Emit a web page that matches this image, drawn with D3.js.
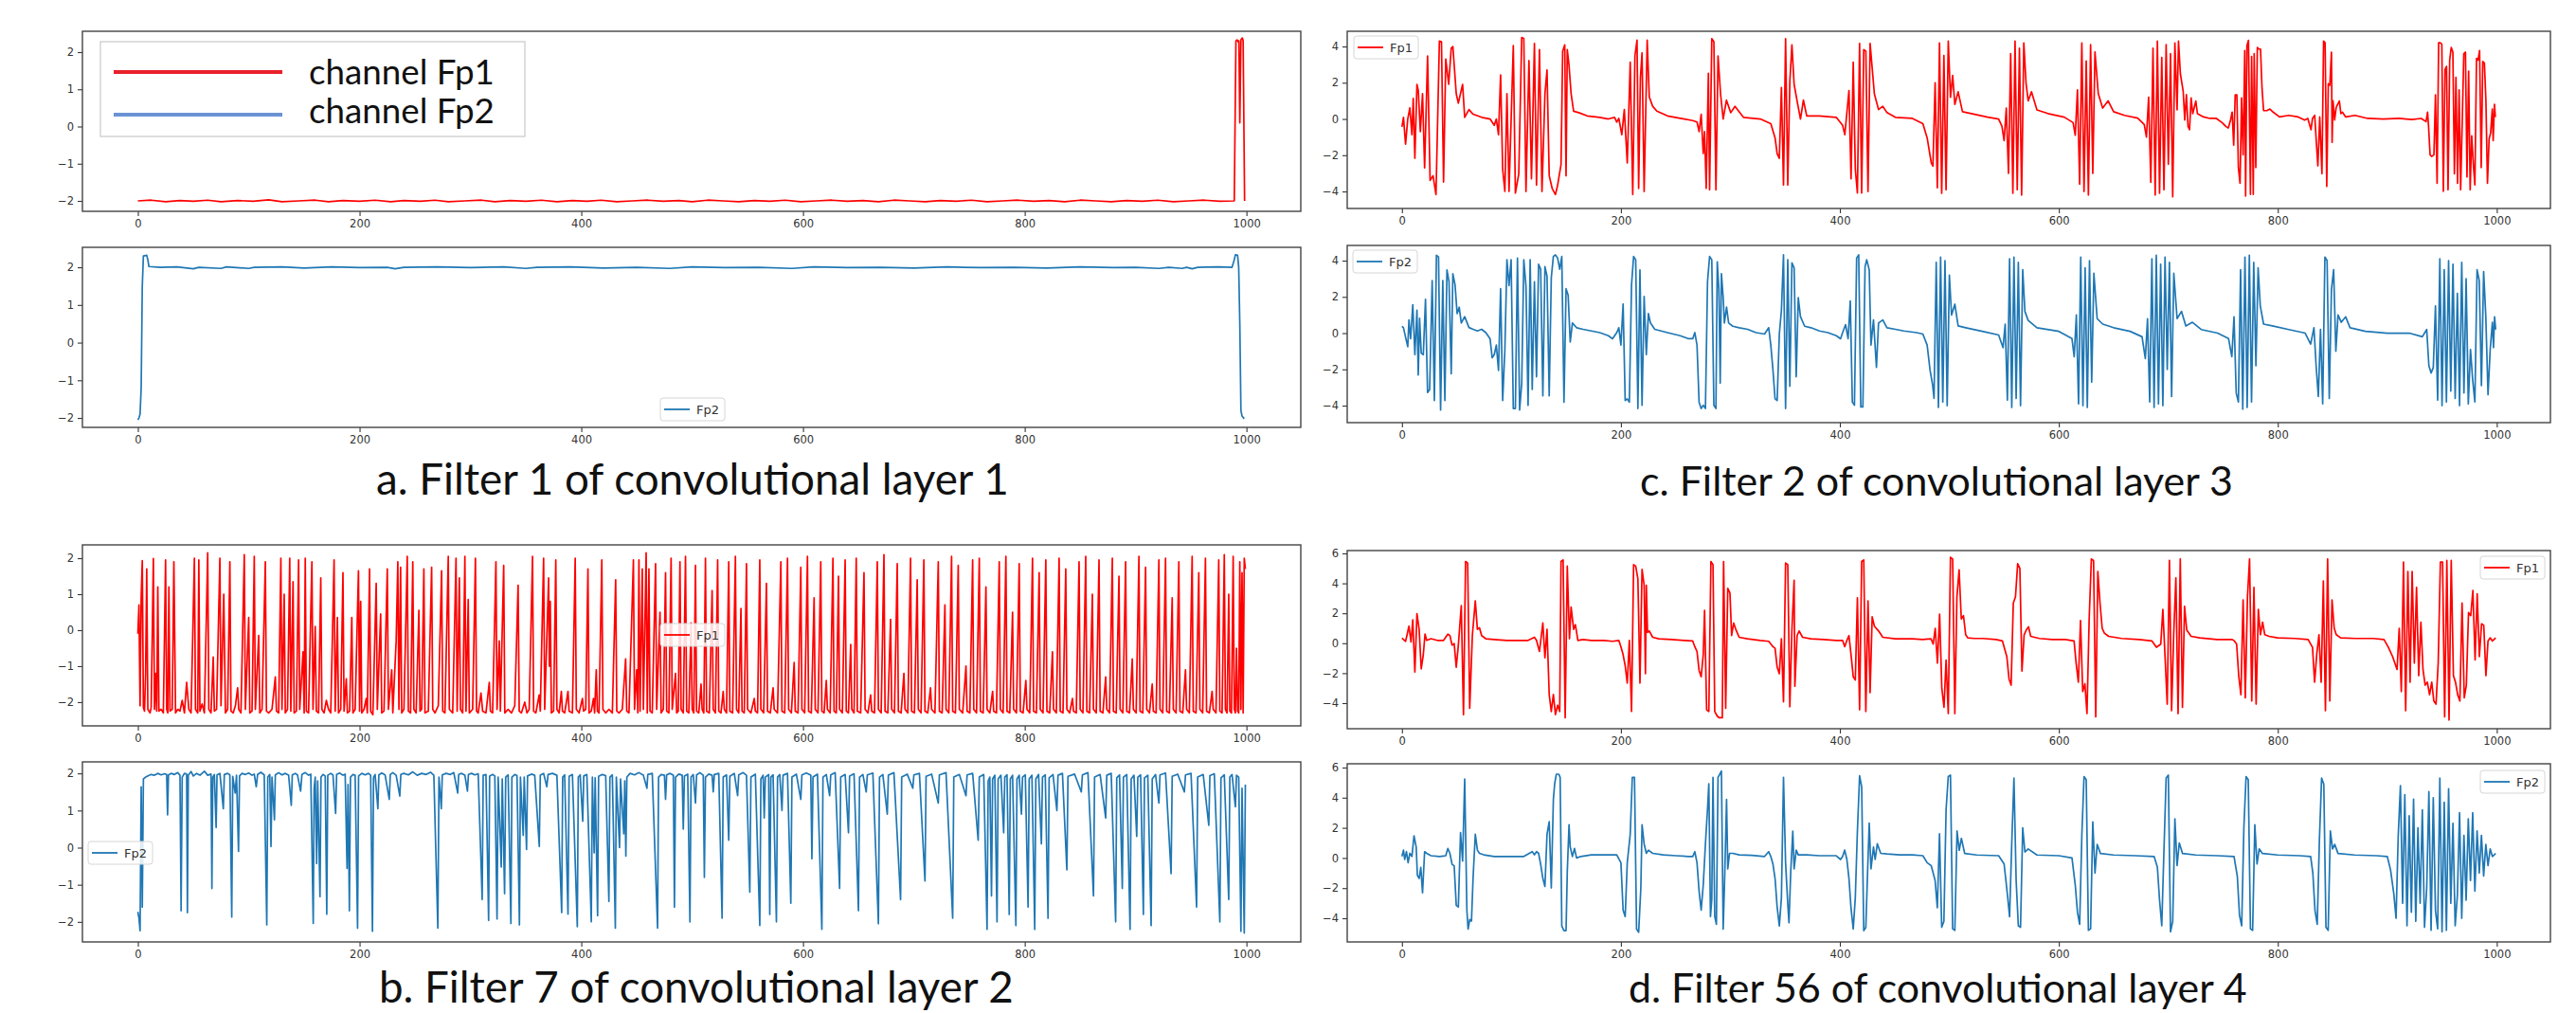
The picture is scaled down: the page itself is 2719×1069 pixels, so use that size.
<!DOCTYPE html>
<meta charset="utf-8">
<head>
</head>
<body style="margin:0;background:#fff">
<style>
.tick text { font-family: "DejaVu Sans", sans-serif; font-size: 11.5px; fill: #333; }
.tick line { stroke: #333; stroke-width: 1.1px; }
.frame { fill: none; stroke: #444; stroke-width: 1.4px; }
.sig { fill: none; stroke-width: 1.7px; stroke-linejoin: round; }
.caption { font-family: "Century Gothic", "URW Gothic", Lato, sans-serif; fill: #111; }
</style>
<svg width="2719" height="1069"></svg>
<script src="https://d3js.org/d3.v7.min.js"></script>
<script>
var aFp1 = [0,-2.0, 12,-1.98, 25,-2.02, 38,-1.99, 50,-2.01, 63,-1.98, 75,-2.02, 90,-1.99, 104,-2.01, 118,-1.97, 130,-2.02, 145,-2.0, 160,-1.98, 172,-2.02, 185,-1.99, 200,-2.01, 214,-1.98, 228,-2.02, 240,-1.99, 255,-2.01, 268,-1.98, 280,-2.02, 295,-2.0, 310,-1.98, 322,-2.02, 336,-1.99, 350,-2.01, 364,-1.98, 378,-2.02, 392,-1.99, 405,-2.01, 418,-1.98, 432,-2.02, 446,-2.0, 460,-1.98, 474,-2.01, 488,-1.99, 500,-2.02, 514,-1.98, 528,-2.0, 542,-2.02, 556,-1.99, 570,-2.01, 584,-1.98, 598,-2.02, 612,-2.0, 626,-1.98, 640,-2.01, 654,-1.99, 668,-2.02, 682,-1.98, 696,-2.0, 710,-2.02, 724,-1.99, 738,-2.01, 752,-1.98, 766,-2.02, 780,-2.0, 794,-1.98, 808,-2.01, 822,-1.99, 836,-2.02, 850,-1.98, 864,-2.0, 878,-2.02, 892,-1.99, 906,-2.01, 920,-1.98, 934,-2.02, 948,-2.0, 962,-1.98, 976,-2.01, 989,-2.0, 990.5,2.3, 991.5,2.33, 992.5,2.28, 993.2,2.3, 994,0.1, 995,2.33, 996.3,2.38, 997,2.3, 998.3,-2.0];

var aFp2 = [0,-2.05, 1,-2.0, 2,-1.9, 3,-1.2, 4,1.5, 5,2.3, 8,2.32, 9,2.2, 10,2.02, 20,2.0, 35,2.01, 50,1.96, 55,2.0, 75,1.97, 80,2.01, 100,1.97, 105,2.0, 130,2.01, 150,1.98, 175,2.01, 200,1.99, 225,2.0, 232,1.96, 240,2.0, 270,2.01, 300,1.99, 330,2.01, 350,1.97, 360,2.0, 390,2.01, 420,1.98, 450,2.0, 480,1.97, 500,2.01, 530,1.99, 560,2.0, 590,1.97, 610,2.01, 640,1.99, 670,2.0, 700,1.98, 730,2.01, 760,1.99, 790,2.0, 820,1.98, 850,2.01, 880,1.99, 900,2.0, 921,1.97, 930,2.0, 942,1.97, 946,2.0, 951,1.96, 956,2.0, 975,2.01, 987,2.0, 989,2.2, 990,2.33, 992,2.32, 993,2.0, 994,0.5, 995,-1.8, 996,-1.95, 998,-2.02];

var bFp1 = [0,-0.1, 1,0.7, 2,-2.1, 3,0.9, 4,1.93, 5,-2.15, 6,-2.25, 7,-1.2, 8,1.7, 9,-2.2, 11,-2.3, 12,-2.15, 14,1.99, 15,-2.2, 16,-1.2, 17,-2.25, 18,1.2, 19,-2.25, 21,-2.2, 23,-2.3, 25,1.95, 26,-2.2, 27,-2.3, 28,1.2, 29,-2.25, 31,-2.2, 32.5,1.9, 34,-2.3, 36,-2.2, 38,-2.25, 40,-1.95, 42,-2.3, 44,-1.45, 46,-2.2, 48,-2.3, 51,2.0, 52,-2.2, 54,-2.3, 55,1.95, 56,-2.25, 58,-2.05, 60,-2.3, 63,2.15, 64,-2.2, 66,-2.3, 68,-0.75, 69,-2.25, 71,-2.2, 74,2.0, 75,-2.1, 77.5,1.0, 79,-2.3, 81,-2.2, 83,1.9, 84,-2.25, 86,-2.3, 88,-2.1, 90,-1.6, 91,-2.2, 93,-2.3, 96,2.1, 97,-2.2, 100,0.35, 101,-2.3, 103,-2.25, 105,2.05, 106,-2.2, 109,-0.15, 110,-2.3, 112,-2.2, 115,1.9, 116,-2.25, 118,-2.3, 121,-2.2, 124,-1.3, 125,-2.25, 127,-2.3, 129,2.0, 130,-2.2, 132,1.0, 133,-2.3, 135,-2.2, 137,2.0, 138,-2.25, 140,1.35, 141,-2.3, 143,-2.25, 145,1.95, 146,-2.2, 149,-0.6, 150,-2.3, 151,2.0, 152,-2.25, 154,-2.3, 157,1.9, 158,-2.2, 160,0.1, 161,-2.25, 163,-2.3, 165,1.45, 166,-2.2, 168,-2.3, 170,-1.95, 172,-2.2, 174,-2.3, 177,1.95, 178,-2.25, 180,0.35, 181,-2.3, 183,-2.2, 185,1.6, 186,-2.25, 188,-1.35, 189,-2.3, 191,-2.25, 193,0.35, 194,-2.3, 196,-2.2, 199,1.65, 200,-2.25, 201,0.8, 202,-2.3, 204,-2.2, 206,-1.9, 207,-2.3, 209,1.7, 210,-2.25, 212,-2.35, 215,1.3, 216,-2.2, 219,0.45, 220,-2.3, 222,-2.25, 225,1.7, 226,-2.2, 229,-1.1, 230,-2.3, 233,-0.3, 234.5,1.9, 235.5,-2.2, 237,1.75, 238,-2.3, 240,-2.2, 243,2.05, 244,-2.25, 246,-2.3, 248,1.9, 249,-2.2, 251,-2.3, 253.5,0.55, 254.5,-2.25, 256,-2.2, 258,1.7, 259,-2.3, 262,-2.25, 265,1.75, 266,-2.2, 268,-2.3, 271,-2.1, 274,1.65, 275,-2.25, 277,-2.3, 280,2.05, 281,-2.2, 284,-2.3, 287,2.0, 288,-2.25, 290,1.45, 291,-2.2, 293,-2.3, 295,2.05, 296,-2.25, 298,0.85, 299,-2.3, 302,-2.2, 304.5,2.0, 305.5,-2.25, 307,-2.3, 309.5,-1.75, 311,-2.25, 314,-2.3, 317,-1.45, 318,-2.25, 320,-2.3, 323,1.9, 324,-2.2, 326,-0.3, 327,-2.25, 330,1.8, 331,-2.3, 334,-2.2, 337,-2.3, 340,-2.1, 343,1.25, 344,-2.25, 346,-2.3, 349,-2.0, 351,-2.3, 353,-2.2, 356,2.05, 357,-2.25, 359,-2.3, 362,-1.8, 363,-2.25, 366,2.0, 367,-2.2, 370.5,1.45, 371.2,-1.0, 372,0.8, 373,-2.3, 375,-2.25, 377,1.95, 378,-2.2, 380,-2.3, 382,-1.7, 383,-2.25, 385,-2.3, 388,-1.7, 389,-2.25, 392,-2.3, 394.5,2.0, 395.5,-2.2, 398,-2.3, 401,-1.9, 402,-2.25, 404,-2.2, 406,1.7, 407,-2.3, 409,-2.25, 411,-1.9, 412,-2.3, 413.5,-1.1, 414.5,-2.25, 416,-2.3, 418.5,1.95, 419.5,-2.2, 422,-2.3, 425,-2.2, 428,-2.3, 431,1.4, 432,-2.25, 434,-2.3, 437,-2.2, 440,-0.8, 441,-2.25, 443,-2.3, 447,1.95, 448,-2.2, 450,-1.1, 451,-2.3, 452,1.95, 453,-2.25, 455,1.7, 456,-2.2, 458.5,2.15, 459.5,-2.3, 461,1.7, 462,-2.25, 464,-2.3, 467,1.85, 468,-2.2, 471,0.5, 472,-2.3, 474,-2.2, 476,1.6, 477,-2.25, 479,-2.3, 481,2.0, 482,-2.2, 485,-1.2, 486,-2.3, 487.5,-2.25, 489,1.9, 490,-2.2, 492,-2.3, 494,2.05, 495,-2.25, 497,-2.3, 499,0.2, 500,-2.2, 501.5,-2.3, 503,1.8, 504,-2.25, 506,-2.3, 508,-1.5, 509,-2.2, 510.5,-2.3, 512,2.0, 513,-2.25, 515.5,-2.3, 518,1.1, 519,-2.2, 521,-2.3, 523,1.95, 524,-2.25, 526,-2.3, 528,-1.7, 529,-2.2, 531,-2.3, 533,1.9, 534,-2.25, 536.5,-2.3, 539,2.05, 540,-2.2, 542,-2.3, 544,0.6, 545,-2.25, 547,-2.3, 549,1.85, 550,-2.2, 553,-2.3, 556,-1.9, 557,-2.25, 559,-2.3, 561,1.95, 562,-2.2, 564.5,-2.3, 567,1.3, 568,-2.25, 570.5,-2.3, 573,-1.6, 574,-2.2, 577,-2.3, 580,1.9, 581,-2.25, 583.5,-2.3, 586,2.0, 587,-2.2, 589.5,-2.3, 592,-0.9, 593,-2.25, 595.5,-2.3, 598,1.75, 599,-2.2, 601.5,-2.3, 604,2.05, 605,-2.25, 607.5,-2.3, 610,0.9, 611,-2.2, 613.5,-2.3, 616,1.9, 617,-2.25, 619,-2.3, 621,-1.4, 622,-2.2, 624.5,-2.3, 627,2.0, 628,-2.25, 630,-2.3, 632,1.5, 633,-2.2, 635.5,-2.3, 638,1.95, 639,-2.25, 641,-2.3, 643,-0.4, 644,-2.2, 646,-2.3, 648,2.0, 649,-2.25, 652,-2.3, 655,1.6, 656,-2.2, 658.5,-2.3, 661,-1.8, 662,-2.25, 664.5,-2.3, 667,1.9, 668,-2.2, 670.5,-2.3, 673,2.1, 674,-2.25, 676.5,-2.3, 679,0.3, 680,-2.2, 682.5,-2.3, 685,1.85, 686,-2.25, 688.5,-2.3, 691,-1.2, 692,-2.2, 694.5,-2.3, 697,2.0, 698,-2.25, 700.5,-2.3, 703,1.4, 704,-2.2, 706.5,-2.3, 709,1.95, 710,-2.25, 712.5,-2.3, 715,-1.6, 716,-2.2, 719,-2.3, 722,1.9, 723,-2.25, 725.5,-2.3, 728,0.7, 729,-2.2, 731.5,-2.3, 734,2.05, 735,-2.25, 737.5,-2.3, 740,1.8, 741,-2.2, 744,-2.3, 747,-1.0, 748,-2.25, 750.5,-2.3, 753,1.95, 754,-2.2, 756.5,-2.3, 759,2.0, 760,-2.25, 762.5,-2.3, 765,1.2, 766,-2.2, 768.5,-2.3, 771,-1.7, 772,-2.25, 774.5,-2.3, 777,1.9, 778,-2.2, 780.5,-2.3, 783,2.05, 784,-2.25, 786.5,-2.3, 789,0.5, 790,-2.2, 792.5,-2.3, 795,1.85, 796,-2.25, 798.5,-2.3, 801,-1.4, 802,-2.2, 804.5,-2.3, 807,2.0, 808,-2.25, 810.5,-2.3, 813,1.6, 814,-2.2, 816.5,-2.3, 819,1.95, 820,-2.25, 822.5,-2.3, 825,-0.6, 826,-2.2, 828.5,-2.3, 831,2.0, 832,-2.25, 834.5,-2.3, 837,1.7, 838,-2.2, 840.5,-2.3, 843,-1.9, 844,-2.25, 846.5,-2.3, 849,1.9, 850,-2.2, 852.5,-2.3, 855,2.05, 856,-2.25, 858.5,-2.3, 861,1.0, 862,-2.2, 864.5,-2.3, 867,1.95, 868,-2.25, 870.5,-2.3, 873,-1.3, 874,-2.2, 876.5,-2.3, 879,2.0, 880,-2.25, 882.5,-2.3, 885,1.5, 886,-2.2, 888.5,-2.3, 891,1.9, 892,-2.25, 894.5,-2.3, 897,-0.8, 898,-2.2, 900.5,-2.3, 903,2.05, 904,-2.25, 906.5,-2.3, 909,1.75, 910,-2.2, 912.5,-2.3, 915,-1.5, 916,-2.25, 918.5,-2.3, 921,1.95, 922,-2.2, 924.5,-2.3, 927,2.0, 928,-2.25, 930.5,-2.3, 933,0.9, 934,-2.2, 936.5,-2.3, 939,1.9, 940,-2.25, 942.5,-2.3, 945,-1.1, 946,-2.2, 948.5,-2.3, 951,2.05, 952,-2.25, 954.5,-2.3, 957,1.6, 958,-2.2, 960.5,-2.3, 963,2.0, 964,-2.25, 966.5,-2.3, 969,-1.7, 970,-2.2, 972.5,-2.3, 975,1.95, 976,-2.25, 978,-2.3, 980,2.1, 981,-2.2, 982.5,-2.3, 984,1.0, 985,-2.25, 986.5,-2.3, 988,2.05, 989,-2.2, 990,-2.3, 991,-0.5, 992,-2.25, 993,-2.3, 994,1.9, 995,-2.2, 996,1.6, 997,-2.3, 998,2.0, 999,1.7];

var bFp2 = [0,-1.73, 1,-1.9, 2,-2.24, 3,1.64, 4,-1.6, 5,1.85, 7,1.9, 9.6,1.94, 12,1.97, 15,1.95, 18,2.0, 21,1.96, 24,1.99, 26,1.97, 26.8,0.88, 27.6,1.96, 30,2.0, 33,1.97, 36,2.02, 38,1.95, 39,-1.7, 40,1.9, 42,2.0, 44,1.98, 44.7,-1.75, 45.5,1.95, 48,2.05, 50,1.93, 53,2.0, 56,1.95, 60,2.06, 63,1.95, 66,1.98, 66.8,-1.1, 67.6,1.9, 69,1.97, 70.6,0.54, 71.4,1.96, 74,2.0, 77.1,1.05, 78,1.97, 81,2.0, 83,1.96, 84.7,-1.87, 85.6,1.92, 87.8,1.47, 89,1.95, 90.8,-0.1, 91.7,1.93, 94,2.0, 97,1.97, 100,2.01, 103,1.95, 105,1.98, 106.8,1.64, 108,1.97, 111,2.03, 114,1.96, 116.3,-2.08, 117.2,1.9, 119,1.97, 120.1,0.03, 121,1.9, 123.2,0.75, 124,1.96, 127,2.02, 130,1.96, 133,2.0, 136,1.95, 138.4,1.14, 139.3,1.96, 142,2.0, 144,1.96, 146.8,1.52, 148,1.97, 151,2.02, 154,1.95, 156,1.98, 158.2,-2.04, 159,1.6, 160,1.9, 161.3,-0.43, 162.2,1.8, 164.3,-1.32, 165.2,1.9, 167,1.97, 169,1.93, 170.4,-1.79, 171.3,1.95, 174,2.0, 176,1.96, 178.4,0.92, 179.3,1.97, 182,2.01, 185,1.95, 187,1.98, 188.7,-0.56, 189.6,1.7, 190.8,-1.7, 191.8,1.9, 194,1.97, 196,1.95, 198.2,-2.17, 199.1,1.93, 202,2.0, 205,1.96, 208,2.0, 210,1.95, 211.6,-2.25, 212.6,1.9, 214,1.97, 216.5,1.05, 217.4,1.96, 220,2.01, 223,1.96, 226.8,1.3, 227.7,1.97, 230,2.02, 233,1.95, 236.3,1.39, 237.2,1.97, 240,2.0, 244,1.96, 248,2.04, 252,1.95, 256,2.0, 260,1.97, 264,2.03, 267,1.95, 270.6,-2.17, 271.6,1.9, 273.7,1.05, 274.6,1.96, 278,2.0, 282,1.97, 285,2.02, 288.5,1.47, 289.4,1.97, 292,2.0, 295,1.95, 297.3,1.52, 298.2,1.97, 301,2.0, 304,1.96, 307,1.99, 310.6,-1.4, 311.5,1.95, 314,1.97, 316.4,-1.96, 317.3,1.93, 320,1.97, 322,1.93, 324,-1.92, 325,1.9, 327.8,-0.52, 328.7,1.85, 330.8,-1.24, 331.8,1.9, 334,1.96, 336.5,-2.04, 337.4,1.9, 340,1.97, 342,1.94, 344.2,-2.08, 345.1,1.9, 347.6,0.33, 348.5,1.9, 350.6,-0.05, 351.5,1.93, 355,1.98, 358,1.95, 362.1,0.03, 363,1.95, 366,2.0, 368.9,1.64, 370,1.97, 374,2.0, 378,1.95, 382.3,-1.75, 383.2,1.9, 385,1.96, 388,-1.79, 389,1.92, 392,1.97, 396.4,-2.13, 397.3,1.9, 399,1.96, 401.3,0.71, 402.2,1.93, 405,1.97, 409,-2.0, 410,1.9, 411.6,-0.14, 412.5,1.88, 414.7,-1.83, 415.6,1.92, 419,1.97, 422,1.94, 424.9,-1.45, 425.8,1.9, 428,1.96, 430.7,-2.17, 431.6,1.9, 434.5,0.0, 435.4,1.85, 438.3,0.37, 439.2,1.8, 440.2,-0.23, 441.1,1.9, 444,2.0, 448,1.96, 452,2.02, 456,1.95, 459.2,1.6, 460,1.97, 464,2.0, 468.8,-2.17, 469.7,1.9, 472,1.97, 475,1.95, 476,1.3, 477,1.96, 480,2.0, 483,1.95, 484,-1.6, 485,1.9, 488,1.98, 491,1.95, 492,0.5, 493,1.93, 496,1.98, 498,-2.0, 499,1.9, 501,1.97, 503,1.2, 504,1.96, 507,2.02, 510,1.95, 511,-0.8, 512,1.9, 515,1.98, 518,1.95, 519,1.5, 520,1.97, 524,2.0, 527,-1.9, 528,1.9, 531,1.96, 533,0.2, 534,1.92, 538,2.0, 541,1.4, 542,1.96, 546,2.02, 549,1.95, 552,-1.2, 553,1.9, 557,1.98, 561,-2.1, 562,1.85, 564,1.95, 565,0.8, 566,1.9, 569,1.97, 570,-1.8, 571,1.9, 573,1.96, 576,-2.0, 577,1.9, 579,1.97, 581,1.0, 582,1.95, 586,2.0, 589,-1.5, 590,1.9, 594,1.98, 598,1.3, 599,1.96, 603,2.01, 607,1.95, 608,-0.3, 609,1.9, 613,1.98, 617,-2.2, 618,1.9, 621,1.97, 624,1.4, 625,1.96, 629,2.02, 633,-1.1, 634,1.9, 638,1.97, 641,0.4, 642,1.93, 646,1.99, 650,-1.7, 651,1.9, 654,1.97, 657,1.5, 658,1.96, 663,2.01, 668,-2.05, 669,1.9, 672,1.97, 676,0.9, 677,1.95, 682,2.02, 688,-1.4, 689,1.9, 694,1.98, 699,1.6, 700,1.96, 705,2.0, 710,-0.9, 711,1.92, 716,1.98, 722,1.2, 723,1.96, 729,2.02, 735,-1.9, 736,1.9, 741,1.97, 747,1.4, 748,1.96, 753,2.0, 758,0.2, 759,1.9, 763,1.97, 766,-2.2, 767,1.8, 768.5,1.9, 770,-1.3, 771,1.85, 773,1.95, 775,-2.0, 776,1.85, 778.5,1.95, 781,0.4, 782,1.9, 784,1.96, 786,-1.8, 787,1.85, 789,1.95, 792,-2.1, 793,1.85, 795,1.95, 797,0.9, 798,1.9, 800.5,1.96, 803,-1.6, 804,1.85, 806.5,1.95, 809,-2.2, 810,1.85, 812.5,1.97, 815,0.1, 816,1.9, 818.5,1.96, 821,-1.9, 822,1.88, 825.5,1.97, 829,1.0, 830,1.95, 834,2.0, 838,-0.6, 839,1.92, 845,1.98, 851,1.5, 852,1.96, 857,2.02, 862,-1.3, 863,1.9, 868,1.97, 873,0.8, 874,1.95, 878,2.0, 882,-2.0, 883,1.88, 885.5,1.96, 888,-1.1, 889,1.9, 892,1.97, 895,-2.2, 896,1.85, 898.5,1.95, 901,0.3, 902,1.9, 904.5,1.96, 907,-1.8, 908,1.88, 911,1.95, 914,-2.1, 915,1.85, 918,1.97, 921,1.2, 922,1.96, 927,2.01, 932,-0.7, 933,1.92, 938,1.98, 944,1.5, 945,1.96, 950,2.0, 955,-1.6, 956,1.9, 961,1.97, 966,0.6, 967,1.94, 971,1.99, 976,-2.0, 977,1.88, 980,1.96, 984,-1.4, 985,1.9, 987,1.97, 990,1.1, 991,1.95, 993,1.9, 995,-2.25, 996,1.6, 998,-2.3, 999,1.7];

var cFp1 = [0,-0.43, 1.4,0.09, 3.3,-1.39, 5.3,0, 7.2,0.61, 9.1,-0.87, 10.3,1.13, 11.8,-2.17, 13.7,1.91, 14.9,1.57, 16.8,-0.7, 18.8,1.39, 20.7,-2.7, 23.4,3.48, 25.7,-3.39, 28.4,-3.13, 31.1,-4.17, 34.2,4.3, 36.1,4.26, 38,-3.48, 40,3.3, 42.7,1.91, 45,3.91, 46.5,4.0, 49.6,1.39, 51.5,0.87, 55.4,1.91, 57.3,0.09, 61.2,0.52, 65,0.26, 72.8,0.09, 80.5,0, 84.3,-0.35, 86.2,0, 88.2,-0.87, 90.1,2.43, 92,-2.78, 94,-4.0, 95.9,1.39, 97.8,-4.0, 101.7,4.05, 103.6,-4.09, 106.7,-3.04, 109.4,4.5, 111.3,4.43, 113.3,-4.0, 116,3.22, 118.3,-3.3, 121,4.17, 122.9,-3.65, 125.6,3.83, 127.9,-4.0, 130.6,1.39, 132.5,2.7, 134.5,-3.13, 137.2,-3.83, 140.2,-4.17, 142.2,-3.65, 145.3,-2.52, 146.8,3.74, 148.7,4.09, 149.9,-3.13, 151,3.83, 152.6,2.96, 154.5,1.39, 156.8,0.43, 161.5,0.35, 169.2,0.17, 180.7,0.09, 188.5,0, 194.2,0.09, 196.2,-0.17, 198.1,0.03, 200.8,-0.87, 203.1,0.52, 205.8,-2.43, 208.5,3.13, 210.8,-4.17, 212.8,3.48, 214.7,4.35, 216.2,-3.83, 217.8,2.26, 219.3,3.65, 221.2,-4.0, 224,4.35, 225.9,1.22, 229,0.7, 232.8,0.43, 242.5,0.17, 257.9,0, 265.6,-0.09, 269.5,-0.17, 271.4,-0.7, 273.3,0.26, 275.2,-1.91, 276.4,-0.7, 277.9,-3.83, 279.9,2.52, 281,-3.91, 283,4.43, 284.9,4.26, 286.8,-3.91, 288.7,3.48, 291,1.39, 293.4,0, 296.4,1.04, 300.3,0.35, 304.2,0.7, 311.9,0.09, 327.3,0, 336.9,-0.26, 340.8,-1.04, 342.7,-1.91, 344.7,-2.17, 346.6,1.74, 348.5,-3.65, 350.4,4.43, 352.4,-3.65, 354.3,2.09, 356.2,4.09, 358.2,1.91, 361.3,0.87, 364,0, 366.7,1.04, 369.7,0.17, 381.3,0.17, 396.7,0.09, 402.5,-0.35, 404.5,-0.87, 408.3,1.57, 410.2,-3.3, 412.2,3.13, 414.1,-2.78, 416,-4.09, 418,4.17, 419.9,-4.09, 421.8,3.83, 423.7,3.74, 425.7,-4.0, 427.6,4.17, 431.5,1.39, 435.3,0.52, 439.2,0.7, 443,0.35, 450.7,0.09, 466.2,0.03, 475.8,-0.26, 479.7,-1.04, 483.5,-2.43, 485,-2.6, 487,2.0, 489,-3.8, 491,4.2, 493,-4.1, 495,3.5, 497,-3.9, 499,4.3, 501,1.2, 503,2.4, 505,0.8, 508,1.5, 512,0.4, 520,0.3, 535,0.1, 545,0, 548,-0.4, 550,-1.2, 552,0.6, 554,-3.0, 556,3.6, 558,-4.1, 560,4.3, 562,-3.9, 564,3.9, 566,-4.2, 568,4.2, 570,2.0, 572,1.0, 575,1.5, 580,0.5, 590,0.3, 605,0.1, 613,-0.2, 615,-0.9, 617,1.6, 619,-3.6, 621,4.2, 623,-4.0, 625,3.2, 627,-4.2, 629,4.1, 631,-3.0, 633,3.7, 636,1.4, 640,0.6, 645,1.0, 650,0.4, 660,0.2, 672,0.05, 678,-0.3, 680,-1.0, 682,1.2, 684,-3.5, 686,3.9, 688,-4.2, 690,4.3, 692,-4.1, 694,3.4, 696,-3.9, 698,4.1, 700,-2.5, 702,3.6, 704,-4.3, 706,4.2, 708,0.5, 709.3,4.3, 711,2.5, 713.6,1.51, 715,-0.06, 716.5,1.34, 718,-0.41, 719.4,-0.59, 720.8,1.16, 722.3,0.29, 725.1,0.99, 726.6,0.29, 732.3,0.11, 738,0.03, 743.9,0.03, 749.6,-0.23, 752.5,-0.41, 754.8,-0.5, 756.8,-0.06, 758.3,0.38, 759.7,-1.45, 761.1,1.33, 762.6,1.33, 764,-2.7, 765.5,-3.55, 766.9,1.16, 768.3,-1.98, 769.8,3.78, 770.6,-4.25, 771.8,4.04, 773.2,4.34, 775,-4.16, 776.1,3.45, 777.6,-4.16, 778.4,3.6, 779.9,-2.68, 781.3,3.95, 782.7,3.86, 784.2,3.86, 785.6,1.68, 787,0.46, 790,0.46, 792.8,0.55, 795.7,0.38, 801.5,0.11, 810,0.2, 818.7,0.11, 824.5,-0.06, 827.4,0.03, 830.3,-0.59, 831.7,0.03, 833.7,0.2, 835.2,-1.29, 836.6,-2.59, 838.3,0.11, 840.3,-3.02, 841.8,4.3, 843.2,4.21, 844.7,-3.72, 846.1,1.95, 847.5,1.86, 849,3.69, 849.6,-1.29, 850.4,1.0, 851.9,-0.06, 853.3,0.64, 856.2,0.99, 857.6,0.29, 859,0.38, 862,0.11, 870.6,0.2, 882,0.03, 896.5,0, 910.9,0.03, 922.4,-0.03, 931,0.03, 935.4,-0.15, 936.8,0.38, 937.7,-0.41, 939.1,-1.98, 940.6,-2.07, 942.6,-1.98, 944,1.33, 945.5,-3.55, 946.9,4.21, 948.3,4.21, 949.8,4.13, 951.2,-3.99, 952.7,2.73, 954.1,2.9, 955.5,-3.9, 957,3.25, 958.4,3.95, 959.9,3.69, 961.3,-3.03, 962.7,2.3, 964.2,-3.55, 965.6,1.6, 967,-3.9, 969.9,3.6, 971.4,3.69, 972.8,-3.2, 974.3,2.64, 975.7,-3.9, 977.1,-0.93, 978.6,-2.5, 980,-3.64, 981.5,3.34, 982.9,3.25, 984.3,3.78, 985.8,-2.68, 987.2,3.17, 988.7,3.08, 990.1,1.0, 991.5,-3.55, 993,-1.11, 994.4,-0.76, 995.9,0.55, 996.7,-1.2, 997.9,0.81, 998.7,0.11];

var cFp2 = [0,0.38, 1.4,0.3, 3.3,-0.23, 5.3,-0.75, 6.4,0.73, 7.9,-0.31, 9.9,1.57, 11.8,-1.19, 13.7,1.26, 14.9,-2.31, 16.1,0.82, 17.6,-1.1, 19.5,-1.19, 21.5,1.87, 23.4,-3.28, 25.3,-3.11, 27.6,2.9, 29.6,-3.72, 31.5,4.3, 33.4,4.21, 35.3,-4.24, 37.3,2.9, 39.2,-3.72, 41.1,3.49, 43,2.83, 45,-2.24, 46.5,3.28, 48.5,2.66, 50.4,1.08, 52.3,1.43, 54.2,0.56, 57.3,0.91, 61.2,0.31, 65,0.21, 68.9,0.12, 72.8,0.21, 76.6,0.03, 80.5,-0.31, 82.4,-1.36, 84.3,-1.19, 86.2,-0.66, 88.2,-2.06, 90.1,2.45, 92,-3.72, 94,-0.93, 95.9,4.05, 97.8,2.62, 99.7,4.05, 101.7,-4.16, 103.6,-4.16, 105.5,4.14, 107.5,-4.24, 109.4,-2.76, 111.3,4.05, 113.3,2.58, 115.2,-3.98, 117.1,4.05, 119,-3.11, 121,2.83, 122.9,-2.41, 124.8,3.8, 126.7,3.53, 128.7,-3.46, 130.6,3.67, 132.5,3.14, 134.5,-3.46, 136.4,3.06, 138.3,4.23, 140.2,4.32, 142.2,4.14, 144.1,3.53, 146,4.23, 148,-3.81, 149.9,2.45, 151.8,2.1, 153.7,-0.49, 155.7,0.56, 159.5,0.3, 165.3,0.21, 173,0.12, 180.7,0.03, 188.5,-0.14, 192.3,-0.31, 196.2,0.03, 198.1,0.3, 200,-0.66, 202,1.61, 203.9,-3.72, 205.8,-3.63, 207.7,-3.81, 209.7,2.66, 211.6,4.23, 213.5,4.05, 215.5,-4.16, 217.4,3.49, 219.3,-3.98, 221.2,2.03, 223.2,-1.19, 225.1,1.08, 227,0.56, 230.9,0.21, 242.5,0.03, 254,-0.14, 261.7,-0.31, 265.6,-0.31, 267.5,0.03, 269.5,-0.66, 271.4,-3.81, 273.3,-4.16, 275.2,-3.98, 277.2,-4.16, 279.1,2.83, 281,4.23, 283,4.05, 284.9,-3.98, 286.8,-4.16, 288,3.93, 289.5,2.4, 290.7,-2.76, 291.8,3.28, 293.4,1.96, 294.5,0.56, 296.5,1.43, 298.4,0.56, 302.2,0.38, 308,0.3, 315.7,0.21, 323.4,0.03, 331.2,-0.05, 335,0.3, 336.9,-0.66, 338.9,-2.06, 340.8,-3.63, 342.7,-3.72, 344.7,-0.05, 346.6,1.26, 348.5,4.32, 350.4,-4.16, 352.4,4.05, 354.3,-2.93, 356.2,3.88, 358.2,3.6, 360.1,-2.41, 362,1.96, 364,0.91, 367.8,0.38, 373.6,0.3, 381.3,0.12, 389,0.03, 396.7,-0.14, 400.6,-0.31, 402.5,0.03, 405.2,0.47, 407.5,-0.31, 409.5,1.78, 411.4,-3.81, 413.3,-3.98, 415.3,4.14, 417.2,4.32, 419.1,-4.07, 421,-4.07, 423,3.67, 424.5,4.05, 426.8,3.49, 428.4,-0.66, 430.7,0.73, 433.4,-1.89, 435.3,0.56, 439.2,0.73, 443,0.3, 450.7,0.21, 458.4,0.12, 470,0.03, 475.8,-0.05, 479.7,-0.66, 482.4,-2.06, 484.7,-2.86, 486,-3.6, 488,3.9, 490,-4.1, 492,4.2, 494,-3.8, 496,4.0, 498,-4.0, 500,3.2, 502,1.0, 505,1.6, 508,0.4, 515,0.3, 530,0.1, 545,-0.1, 549,-0.8, 551,0.5, 553,-3.7, 555,4.1, 557,-4.1, 559,4.2, 561,-3.6, 563,3.9, 565,-4.0, 567,3.5, 569,1.2, 572,0.7, 580,0.3, 600,0.1, 612,-0.3, 614,-1.3, 616,1.0, 618,-3.9, 620,4.2, 622,-4.0, 624,3.6, 626,-4.1, 628,4.0, 630,-2.7, 632,3.3, 635,0.8, 640,0.5, 650,0.3, 665,0.1, 676,-0.2, 679,-1.4, 681,0.8, 683,-3.8, 685,4.1, 687,-4.1, 689,4.3, 691,-3.9, 693,3.8, 695,-4.0, 697,4.2, 699,-2.0, 701,3.9, 703,-3.5, 705,3.3, 708,0.8, 712,1.2, 716,0.4, 722,0.6, 730,0.2, 745,0.0, 755,-0.3, 758,-1.3, 760,0.9, 762,-3.3, 764,-3.8, 766,3.5, 768,-4.2, 770,4.2, 772,-4.1, 774,4.3, 776,-3.8, 778,3.9, 780,-1.8, 782,3.6, 784,1.5, 787,0.5, 795,0.4, 810,0.2, 825,0.0, 830,-0.6, 833,0.3, 835,-1.8, 837,-3.5, 839,0.2, 841,-3.9, 843,4.2, 845,4.0, 847,-3.6, 849,2.4, 851,3.5, 853,-1.0, 855,1.0, 858,0.6, 862,0.9, 866,0.3, 880,0.1, 900,0.0, 920,0.0, 932,-0.2, 936,0.2, 938,-1.8, 940,-2.2, 942,-1.9, 944,1.5, 946,-3.7, 948,4.1, 950,-4.0, 952,3.5, 954,-3.8, 956,4.0, 958,-3.2, 960,3.8, 962,-3.6, 964,2.2, 966,-4.0, 968,3.9, 970,-3.3, 972,3.0, 974,-3.9, 976,-0.9, 978,-2.6, 980,-3.8, 982,3.5, 984,2.9, 986,-2.9, 988,3.4, 990,0.9, 992,-3.4, 994,-0.9, 996,0.6, 997,-0.8, 998,0.9, 999,0.2];

var dFp1 = [0,0.34, 1.4,0.25, 3.3,0.13, 4.5,0.51, 6.4,1.14, 8.3,0.08, 9.9,1.56, 11.8,-1.92, 13.7,1.98, 15.7,0.93, 17.6,-1.71, 19.5,-0.76, 21.1,0.61, 22.6,0.19, 26.5,0.3, 32.3,0.19, 38,0.19, 41.9,0.61, 43.8,0.51, 45.8,-0.13, 47.7,-0.02, 49.6,-1.6, 51.5,-0.13, 54.2,2.51, 56.2,-4.77, 58.1,5.46, 60,5.36, 61.9,-4.35, 64.3,0.51, 67,2.83, 68.9,0.93, 70.8,1.03, 72.8,0.51, 76.6,0.3, 84.3,0.25, 95.9,0.19, 107.5,0.19, 115.2,0.19, 121,0.4, 122.9,0.19, 125.6,-0.55, 128.7,1.35, 130.6,-0.97, 132.5,0.93, 134.5,-3.42, 136.4,-4.56, 138.3,-3.42, 140.2,-4.77, 142.2,-4.14, 144.1,-4.56, 145.3,5.46, 147.2,5.57, 149.1,-4.98, 151,5.15, 153,0.3, 154.5,2.41, 156.8,0.93, 158.4,1.24, 160.7,0.19, 165.3,0.25, 173,0.19, 184.6,0.19, 192.3,0.13, 198.1,0.19, 200,-0.23, 202,-0.76, 203.9,-1.5, 205.8,-2.66, 207.7,0.19, 209.7,-4.56, 211.6,5.25, 213.5,5.15, 215.5,4.3, 217.4,-2.66, 219.3,4.94, 221.2,3.88, 222.4,-2.03, 223.2,3.88, 224.3,0.72, 225.9,0.82, 229,0.4, 234.7,0.3, 246.3,0.25, 257.9,0.19, 265.6,0.15, 267.5,-0.23, 269.5,-0.55, 271.4,-1.81, 273.3,-2.24, 275.2,-0.76, 276.4,2.2, 278.3,-4.45, 280.3,-4.56, 282.2,5.46, 284.1,5.25, 285.7,-4.56, 288,-4.87, 289.9,-4.98, 292.6,-4.98, 293.8,5.46, 295.7,-4.35, 297.6,3.67, 299.6,3.35, 301.1,0.51, 303,1.35, 304.9,0.93, 308,0.4, 315.7,0.3, 327.3,0.19, 335,0.13, 338.9,-0.23, 340.8,-0.34, 342.7,-1.6, 344.7,-2.03, 346.6,0.3, 348.5,-3.92, 350.4,5.36, 352.4,5.25, 354.3,-4.24, 356.2,0.93, 358.2,4.2, 358.9,-2.87, 360.9,0.51, 362.8,0.82, 365.9,0.4, 373.6,0.3, 385.2,0.25, 396.7,0.19, 402.5,0.19, 404.4,-0.23, 406.4,0.19, 408.3,0.51, 410.2,-0.76, 412.2,-2.24, 414.1,-2.45, 416,3.04, 418,-4.45, 419.9,5.46, 421.8,5.57, 423.7,-4.56, 425.7,2.83, 427.6,-3.3, 429.5,1.77, 431.5,1.14, 435.3,0.82, 439.2,0.4, 450.7,0.3, 466.2,0.3, 475.8,0.25, 483.2,0.3, 485.2,-0.06, 487.1,1.0, 489.1,-1.33, 491.1,1.94, 493.1,-3.0, 495.1,-4.28, 497,-1.12, 499,-4.7, 501,5.74, 503,5.63, 505,-4.7, 506.9,3.1, 508.9,4.9, 510.9,1.62, 512.9,1.84, 514.9,0.57, 516.8,0.36, 522.8,0.32, 530.7,0.32, 542.6,0.25, 548.5,0.15, 552.5,-0.9, 554.5,-2.38, 556.4,-2.8, 558.4,2.68, 560.4,3.1, 562.4,5.32, 564.4,5.0, 566.3,-1.86, 568.3,0.57, 570.3,0.89, 572.3,1.1, 574.3,0.46, 582.2,0.32, 594.1,0.25, 605.9,0.25, 613.9,0.15, 615.8,-1.33, 617.8,-2.6, 619.8,1.52, 621.8,-3.23, 623.8,-2.7, 625.7,-4.7, 627.7,1.62, 629.7,5.63, 631.7,5.53, 633.7,-4.92, 635.6,4.79, 637.6,2.68, 639.6,1.0, 641.6,0.68, 645.5,0.46, 657.4,0.32, 673.3,0.25, 685.1,0.15, 689.1,-0.27, 693.1,-0.06, 695,2.26, 697,-0.9, 699,-4.07, 701,5.53, 703,-4.5, 704.9,0.57, 706.9,4.37, 708.9,-4.7, 710.9,5.63, 712.9,-4.28, 714.8,2.47, 716.8,0.89, 720.8,0.46, 728.7,0.36, 744.5,0.25, 758.4,0.25, 760.4,0.15, 762.4,-0.06, 764.3,-2.17, 766.3,-3.44, 768.3,2.89, 770.3,-3.65, 772.3,3.1, 774.2,5.63, 776.2,-3.86, 778.2,3.73, 780.2,-4.07, 782.2,2.26, 784.1,0.57, 786.1,1.41, 788.1,0.57, 792,0.46, 800,0.36, 815.8,0.32, 827.7,0.25, 831.7,-0.27, 833.6,-2.6, 835.6,-0.7, 837.6,0.57, 839.6,-2.6, 841.6,4.16, 843.5,-4.5, 845.5,5.63, 847.5,-3.86, 849.5,2.89, 851.5,1.0, 853.4,0.57, 857.4,0.36, 871.3,0.32, 887.1,0.32, 897,0.25, 901,-0.27, 904.9,-0.9, 908.9,-1.75, 910.9,1.0, 912.8,-3.23, 914.8,5.42, 916.8,-4.5, 918.8,4.79, 920.8,-2.6, 922.7,4.79, 924.7,-1.33, 926.7,3.73, 928.7,-2.17, 930.7,1.41, 932.6,-1.75, 934.6,-2.8, 936.6,-2.6, 938.6,-3.44, 940.6,-2.6, 942.5,-3.86, 944.5,-4.07, 946.5,-1.33, 948.5,5.42, 950.5,5.42, 952.4,-4.92, 954.4,5.53, 956.4,-5.13, 958.4,5.53, 960.4,-2.17, 962.3,-2.6, 964.3,-3.44, 966.3,-3.86, 968.3,2.68, 970.3,-3.65, 972.2,-2.8, 974.2,2.05, 976.2,1.84, 978.2,3.52, 980.2,-1.12, 982.1,3.31, 984.1,-0.9, 986.1,1.3, 988.1,1.2, 990.1,-2.17, 992,0.15, 994,0.36, 996,0.15, 999,0.36];

var dFp2 = [0,0.1, 1.4,0.52, 2.5,-0.1, 4.1,0.42, 5.6,-0.31, 7.2,0.31, 9.1,0.1, 11,1.47, 13,0.73, 14.1,-1.15, 15.7,-1.36, 17.2,-0.63, 18.8,-2.31, 20.7,0.42, 22.6,0.31, 26.5,0.15, 34.2,0.1, 40,0.15, 41.9,0.63, 43.8,0.31, 45.8,-0.42, 47.7,-0.52, 49.6,-3.14, 51.5,-3.25, 53.5,1.68, 55.4,-0.21, 57.3,5.24, 59.3,-3.46, 60.4,-4.72, 61.9,-4.09, 63.5,-4.19, 65,-1.26, 67,1.57, 68.9,0.52, 70.8,0.31, 74.7,0.21, 84.3,0.1, 95.9,0.1, 111.3,0.1, 119,0.42, 121,0.21, 122.9,0.42, 124.8,0.31, 126.7,-0.42, 128.7,-1.36, 130.6,-1.89, 132.5,1.57, 134.5,2.41, 136.4,-1.99, 138.3,3.88, 139.5,4.93, 141,5.56, 143.3,5.56, 144.5,5.35, 146,-4.51, 148,-4.82, 149.9,-4.82, 151,-0.94, 152.6,2.2, 153.7,0.73, 155.7,0.1, 157.6,0.63, 159.5,0.0, 163.4,0.1, 173,0.21, 188.5,0.21, 196.2,0.21, 200,-0.31, 202,-3.46, 203.9,-3.88, 205.8,-0.31, 208.5,1.57, 210.4,5.35, 212.4,5.35, 214.3,-4.72, 216.2,-4.93, 218.2,-1.99, 219.3,2.2, 221.2,0.94, 223.2,0.31, 225.1,0.52, 229,0.31, 238.6,0.21, 250.2,0.15, 261.7,0.1, 265.6,0.1, 267.5,0.42, 269.5,-0.31, 271.4,-2.2, 273.3,-3.46, 275.2,-1.78, 277.2,0.94, 279.1,3.25, 280.3,4.93, 281.8,-3.88, 283,-2.73, 284.1,5.35, 285.7,-3.88, 287.2,-4.4, 288.7,5.35, 290.3,5.56, 291.8,5.77, 293.4,-4.72, 294.9,-0.94, 296.5,3.88, 297.6,-0.73, 299.2,0.31, 302.2,0.31, 308,0.21, 319.6,0.17, 331.2,0.1, 335,0.42, 336.9,0.1, 338.9,-0.42, 340.8,-1.36, 342.7,-3.25, 344.7,-4.51, 346.6,-2.62, 348.5,5.35, 350.4,-0.31, 352.4,-3.04, 353.5,-4.3, 355.1,-0.94, 357,1.78, 358.2,-0.73, 360.1,0.52, 362,0.21, 369.7,0.21, 381.3,0.15, 396.7,0.15, 400.6,-0.1, 402.5,0.1, 404.4,0.52, 406.4,-0.1, 408.3,-1.36, 410.2,-3.35, 412.2,-4.72, 414.1,-2.62, 416,1.78, 418,5.45, 419.9,4.72, 421.8,-4.82, 423.7,-4.61, 425.3,-0.94, 426.8,2.31, 428.4,-0.73, 430.7,0.73, 432.2,-0.1, 434.2,0.94, 437.3,0.31, 443,0.27, 454.6,0.21, 466.2,0.21, 475.8,0.15, 479.7,-0.31, 483.5,-0.52, 487,-1.5, 489,-3.3, 491,1.6, 493,-4.6, 495,-4.2, 497,3.2, 499,5.4, 501,5.5, 503,-4.7, 505,-4.8, 507,1.8, 509,0.5, 511,1.3, 514,0.3, 525,0.2, 545,0.15, 550,-0.4, 553,-2.4, 555,-3.9, 557,1.0, 559,5.3, 561,-1.5, 563,-4.5, 565,-4.6, 567,2.0, 569,0.4, 572,0.6, 580,0.2, 600,0.15, 612,0.0, 615,-1.8, 617,-3.6, 619,-4.4, 621,1.5, 623,5.4, 625,5.2, 627,-4.8, 629,-4.7, 631,2.4, 633,-1.0, 635,0.9, 638,0.3, 650,0.2, 670,0.15, 687,0.1, 690,-0.6, 692,-2.8, 694,-4.5, 696,0.5, 698,5.3, 700,5.5, 702,-4.9, 704,-4.2, 706,2.6, 708,-0.5, 710,1.0, 713,0.3, 725,0.2, 745,0.15, 760,0.1, 763,-1.2, 765,-3.8, 767,-4.5, 769,2.0, 771,5.4, 773,5.2, 775,-4.7, 777,-4.8, 779,2.2, 781,-0.4, 783,0.6, 786,0.3, 800,0.2, 820,0.15, 830,0.1, 832,-1.0, 834,-3.5, 836,-4.4, 838,1.2, 840,5.3, 842,4.9, 844,-4.6, 846,-4.8, 848,1.8, 850,0.6, 852,0.9, 855,0.3, 870,0.2, 890,0.15, 900,0.1, 903,-0.8, 906,-2.4, 908,-4.0, 910,1.5, 912,4.8, 914,-3.0, 916,4.2, 918,-4.5, 920,2.8, 922,-3.6, 924,3.9, 926,-4.2, 928,2.0, 930,-3.0, 932,3.2, 934,-4.6, 936,-2.0, 938,4.4, 940,-4.8, 942,4.0, 944,-3.5, 946,-4.7, 948,5.3, 950,-4.9, 952,3.7, 954,-4.8, 956,4.6, 958,-3.0, 960,2.3, 962,-4.5, 964,-2.5, 966,3.0, 968,-4.0, 970,1.5, 972,-2.8, 974,2.6, 976,-1.5, 978,3.0, 980,-2.2, 982,1.8, 984,-1.0, 986,1.5, 988,-1.2, 990,0.9, 992,-0.5, 994,0.6, 996,0.1, 999,0.3];

var xTicks = [0, 200, 400, 600, 800, 1000];
var yTicksAB = [-2, -1, 0, 1, 2];
var yTicksC = [-4, -2, 0, 2, 4];
var yTicksD = [-4, -2, 0, 2, 4, 6];
var bigLegend = ["channel Fp1", "channel Fp2"];
var captions = ["a. Filter 1 of convolutional layer 1", "c. Filter 2 of convolutional layer 3",
                "b. Filter 7 of convolutional layer 2", "d. Filter 56 of convolutional layer 4"];

var svg = d3.select("svg");
var red = "#ff0000", blue = "#1f77b4";
var fmt = d3.format("d");

function pairs(flat) {
  return d3.range(0, flat.length, 2).map(function(i) { return [flat[i], flat[i + 1]]; });
}

function fitWidth(t, target) {
  var len = t.node().getComputedTextLength();
  t.attr("font-size", parseFloat(t.attr("font-size")) * target / len);
}

// layout of the eight axes boxes
var panels = [
  {data: aFp1, name: "Fp1", color: red,  x: 87,   y: 33,  w: 1286, h: 190, ydom: [-2.28, 2.56], ticks: yTicksAB, leg: null},
  {data: aFp2, name: "Fp2", color: blue, x: 87,   y: 261, w: 1286, h: 190, ydom: [-2.25, 2.53], ticks: yTicksAB, leg: [610, 159]},
  {data: bFp1, name: "Fp1", color: red,  x: 87,   y: 575, w: 1286, h: 191, ydom: [-2.66, 2.37], ticks: yTicksAB, leg: [610, 83]},
  {data: bFp2, name: "Fp2", color: blue, x: 87,   y: 804, w: 1286, h: 190, ydom: [-2.54, 2.31], ticks: yTicksAB, leg: [6, 84]},
  {data: cFp1, name: "Fp1", color: red,  x: 1422, y: 33,  w: 1270, h: 187, ydom: [-4.94, 4.84], ticks: yTicksC,  leg: [7, 5]},
  {data: cFp2, name: "Fp2", color: blue, x: 1422, y: 259, w: 1270, h: 187, ydom: [-4.94, 4.84], ticks: yTicksC,  leg: [6, 5]},
  {data: dFp1, name: "Fp1", color: red,  x: 1422, y: 581, w: 1270, h: 188, ydom: [-5.71, 6.19], ticks: yTicksD,  leg: [1196, 6]},
  {data: dFp2, name: "Fp2", color: blue, x: 1422, y: 806, w: 1270, h: 188, ydom: [-5.57, 6.25], ticks: yTicksD,  leg: [1196, 7]}
];

panels.forEach(function(p, i) {
  var g = svg.append("g").attr("transform", "translate(" + p.x + "," + p.y + ")");
  var x = d3.scaleLinear().domain([-50, 1049]).range([0, p.w]);
  var y = d3.scaleLinear().domain(p.ydom).range([p.h, 0]);

  g.append("path")
    .datum(pairs(p.data))
    .attr("class", "sig")
    .attr("stroke", p.color)
    .attr("d", d3.line().x(function(d) { return x(d[0]); }).y(function(d) { return y(d[1]); }));

  var xa = g.append("g").attr("transform", "translate(0," + p.h + ")")
    .call(d3.axisBottom(x).tickValues(xTicks).tickFormat(fmt).tickSize(5).tickPadding(4));
  var ya = g.append("g")
    .call(d3.axisLeft(y).tickValues(p.ticks).tickFormat(fmt).tickSize(5).tickPadding(4));
  xa.select(".domain").remove();
  ya.select(".domain").remove();
  xa.selectAll("text").attr("font-family", null).attr("font-size", null);
  ya.selectAll("text").attr("font-family", null).attr("font-size", null);

  g.append("rect").attr("class", "frame").attr("width", p.w).attr("height", p.h);

  if (p.leg) {
    var lg = g.append("g").attr("transform", "translate(" + p.leg[0] + "," + p.leg[1] + ")");
    lg.append("rect").attr("width", 68).attr("height", 24).attr("rx", 3)
      .attr("fill", "#fff").attr("fill-opacity", 0.85).attr("stroke", "#d6d6d6");
    lg.append("line").attr("x1", 4).attr("x2", 31).attr("y1", 12).attr("y2", 12)
      .attr("stroke", p.color).attr("stroke-width", 1.8);
    lg.append("text").attr("x", 38).attr("y", 16.5)
      .attr("font-family", "DejaVu Sans, sans-serif").attr("font-size", 13).attr("fill", "#333")
      .text(p.name);
  }

  if (i === 0) {
    var bl = g.append("g").attr("transform", "translate(19,11)");
    bl.append("rect").attr("width", 448).attr("height", 100)
      .attr("fill", "#fff").attr("stroke", "#c8c8c8").attr("stroke-width", 1.2);
    var legCols = ["#e8202a", "#6a93d4"];
    bigLegend.forEach(function(t, k) {
      bl.append("line").attr("x1", 14).attr("x2", 192).attr("y1", 32 + k * 45).attr("y2", 32 + k * 45)
        .attr("stroke", legCols[k]).attr("stroke-width", 4);
      var tx = bl.append("text").attr("class", "caption").attr("x", 220).attr("y", 45 + k * 41)
        .attr("font-size", 29).text(t);
      fitWidth(tx, 196);
    });
  }
});

// captions under the four figure pairs; the lower two sit at the bottom edge
var capPos = [[397, 522, 668], [1731, 523, 626], [400, 1058, 670], [1719, 1058, 653]];
captions.forEach(function(c, k) {
  var t = svg.append("text").attr("class", "caption")
    .attr("x", capPos[k][0]).attr("y", capPos[k][1]).attr("font-size", 40).text(c);
  fitWidth(t, capPos[k][2]);
});
</script>
</body>
